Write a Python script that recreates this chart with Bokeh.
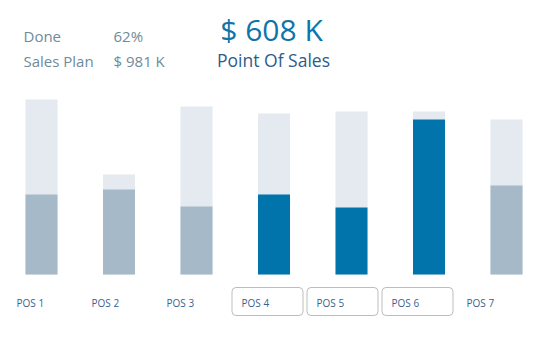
from bokeh.plotting import figure
from bokeh.models import Range1d, Label, ColumnDataSource
from bokeh.embed import file_html
from bokeh.resources import INLINE

# ---- data ----
pos_labels = ["POS 1", "POS 2", "POS 3", "POS 4", "POS 5", "POS 6", "POS 7"]
plan_values = [175, 100, 168, 161, 163, 163, 155]
actual_values = [80, 85, 68, 80, 67, 155, 89]
highlighted = [False, False, False, True, True, True, False]
done_text = "62%"
plan_text = "$ 981 K"
sales_text = "$ 608 K"
title_text = "Point Of Sales"

W, H = 538, 337
BASE_PX = 63          # baseline from bottom, px
STEP = 77.5           # px per bar step
FIRST = 41            # first bar centre px

p = figure(width=W, height=H, output_backend="svg", toolbar_location=None,
           min_border=0, x_range=Range1d(-FIRST / STEP, (W - FIRST) / STEP),
           y_range=Range1d(-BASE_PX, H - BASE_PX))
p.axis.visible = False
p.grid.visible = False
p.outline_line_color = None
p.background_fill_color = "white"
p.border_fill_color = "white"

idx = list(range(len(pos_labels)))
act_colors = ["#0074ab" if h else "#a5b9c8" for h in highlighted]
src = ColumnDataSource(dict(x=idx, plan=plan_values, act=actual_values, c=act_colors))
bw = 32 / STEP
p.vbar(x="x", top="plan", bottom=0, width=bw, source=src, fill_color="#e4eaf0", line_color=None)
p.vbar(x="x", top="act", bottom=0, width=bw, source=src, fill_color="c", line_color=None)

# label row (tabs, spacing 75px)
lab_step = 75 / STEP
lx = [(42 - FIRST) / STEP + i * lab_step for i in idx]
lsrc = ColumnDataSource(dict(
    x=lx, left=[v - 35.5 / STEP for v in lx], right=[v + 35.5 / STEP for v in lx],
    tx=[v - 26 / STEP for v in lx], t=pos_labels,
))
hl = [i for i in idx if highlighted[i]]
bsrc = ColumnDataSource(dict(left=[lsrc.data["left"][i] for i in hl],
                             right=[lsrc.data["right"][i] for i in hl]))
p.quad(left="left", right="right", top=-13, bottom=-41, source=bsrc,
       fill_color="white", line_color="#bdbdbd", line_width=1, border_radius=4)
p.text(x="tx", y=-28, text="t", source=lsrc, text_font_size="10px",
       text_color="#3c5f8e", text_baseline="middle", text_align="left",
       text_font={"value": "Open Sans"})

def lab(x, y, t, size, color, align="left"):
    p.add_layout(Label(x=x, y=y, x_units="screen", y_units="screen", text=t,
                       text_font_size=size, text_color=color, text_align=align,
                       text_baseline="middle", text_font="Open Sans"))

lab(23, 302, "Done", "15px", "#6f8b98")
lab(23, 277, "Sales Plan", "15px", "#6f8b98")
lab(113, 302, done_text, "15px", "#6f8b98")
lab(113, 277, plan_text, "15px", "#6f8b98")
lab(271, 308, sales_text, "30px", "#0e74aa", "center")
lab(273, 278, title_text, "17.5px", "#2d5b8c", "center")

open("out.html", "w").write(file_html(p, INLINE))
